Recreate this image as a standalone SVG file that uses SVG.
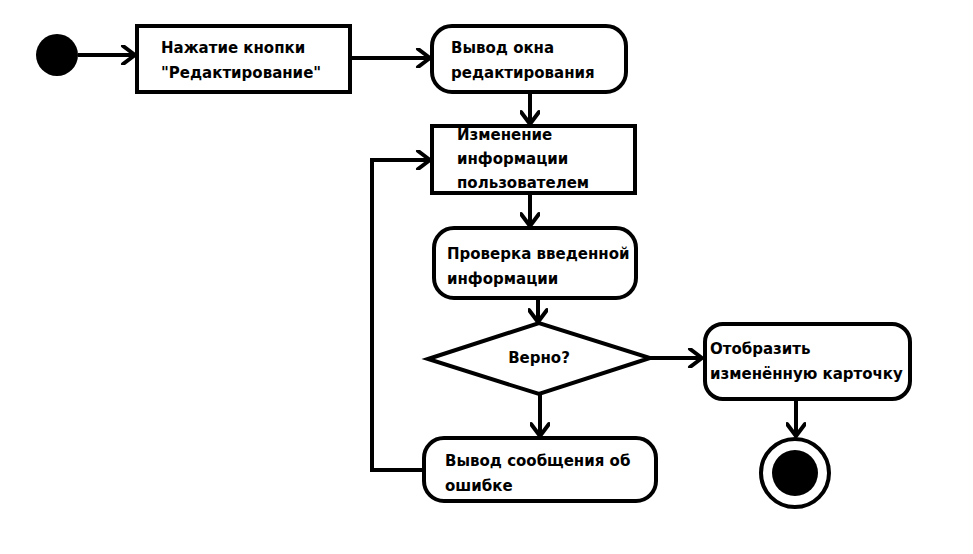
<svg xmlns="http://www.w3.org/2000/svg" width="973" height="554" viewBox="0 0 973 554">
  <defs>
    <marker id="arrow" viewBox="0 0 20 20" refX="17" refY="10" markerWidth="20" markerHeight="20" markerUnits="userSpaceOnUse" orient="auto">
      <path d="M5,1 L17,10 L5,19" fill="none" stroke="#000" stroke-width="4" stroke-linecap="round" stroke-linejoin="round"/>
    </marker>
  </defs>
  <style>
    .box { fill: #fff; stroke: #000; stroke-width: 4; }
    .lbl { font-family: "DejaVu Sans", "Liberation Sans", sans-serif; font-weight: bold; font-size: 15px; fill: #000; }
    .edge { fill: none; stroke: #000; stroke-width: 4; marker-end: url(#arrow); }
  </style>
  <rect width="973" height="554" fill="#fff"/>

  <g id="connectors">
    <line class="edge" x1="78" y1="55" x2="135" y2="55"/>
    <line class="edge" x1="351" y1="58" x2="430" y2="58"/>
    <line class="edge" x1="530" y1="92" x2="530" y2="124"/>
    <line class="edge" x1="530" y1="194" x2="530" y2="226"/>
    <line class="edge" x1="538" y1="298" x2="538" y2="322"/>
    <line class="edge" x1="540" y1="395" x2="540" y2="436"/>
    <line class="edge" x1="650" y1="358" x2="702" y2="358"/>
    <line class="edge" x1="796" y1="400" x2="796" y2="436"/>
    <polyline class="edge" points="424,470 372,470 372,160 430,160"/>
  </g>

  <g id="start">
    <circle cx="57" cy="55" r="21" fill="#000"/>
  </g>

  <g id="press-edit">
    <rect class="box" x="137" y="26" width="213" height="66"/>
    <text class="lbl" x="161" y="53">Нажатие кнопки</text>
    <text class="lbl" x="161" y="78">"Редактирование"</text>
  </g>

  <g id="show-edit-window">
    <rect class="box" x="432" y="26" width="194" height="66" rx="20" ry="20"/>
    <text class="lbl" x="451" y="53">Вывод окна</text>
    <text class="lbl" x="451" y="78">редактирования</text>
  </g>

  <g id="user-edit">
    <rect class="box" x="432" y="126" width="203" height="67"/>
    <text class="lbl" x="457" y="140">Изменение</text>
    <text class="lbl" x="457" y="164">информации</text>
    <text class="lbl" x="457" y="188">пользователем</text>
  </g>

  <g id="validate">
    <rect class="box" x="434" y="228" width="202" height="70" rx="20" ry="20"/>
    <text class="lbl" x="447" y="259">Проверка введенной</text>
    <text class="lbl" x="447" y="284">информации</text>
  </g>

  <g id="decision">
    <polygon class="box" points="428,359 539,323 650,358 539,394"/>
    <text class="lbl" x="539" y="363" text-anchor="middle">Верно?</text>
  </g>

  <g id="error-message">
    <rect class="box" x="424" y="438" width="232" height="63" rx="20" ry="20"/>
    <text class="lbl" x="445" y="466">Вывод сообщения об</text>
    <text class="lbl" x="445" y="491">ошибке</text>
  </g>

  <g id="show-card">
    <rect class="box" x="705" y="324" width="205" height="75" rx="18" ry="18"/>
    <text class="lbl" x="710" y="354">Отобразить</text>
    <text class="lbl" x="710" y="379">изменённую карточку</text>
  </g>

  <g id="end">
    <circle cx="795" cy="473" r="34" fill="#fff" stroke="#000" stroke-width="4"/>
    <circle cx="795" cy="473" r="23" fill="#000"/>
  </g>
</svg>
